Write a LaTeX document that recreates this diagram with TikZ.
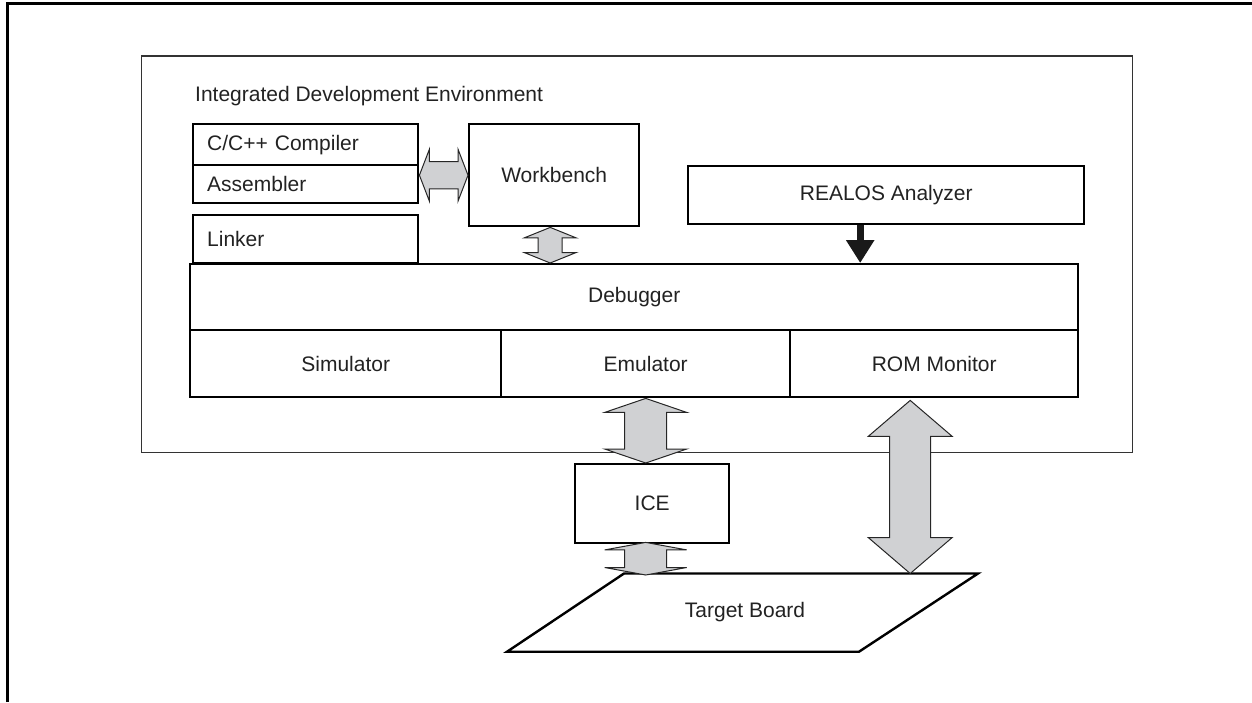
\documentclass[tikz,border=0pt]{standalone}
\usepackage{fontspec}
\setmainfont{Liberation Sans}
\usetikzlibrary{calc,arrows.meta}
\definecolor{txt}{HTML}{222222}
\definecolor{afill}{HTML}{D0D1D3}
\tikzset{
  txtfont/.style={font=\fontsize{21}{25}\selectfont, text=txt},
  box/.style={draw=black, line width=2.4pt, txtfont, inner sep=0pt, anchor=north west},
  lbox/.style={box, align=left, text width=#1, inner xsep=14pt},
  dblarrow/.style={fill=afill, draw=black!85, line width=1pt, line join=miter},
}
\newcommand\vdbl[5]{%
  \filldraw[dblarrow] let \p1=(#1), \p2=(#2) in
    (\x1,\y1) -- ({\x1+#3pt},{\y1-#4pt}) -- ({\x1+#5pt},{\y1-#4pt})
    -- ({\x1+#5pt},{\y2+#4pt}) -- ({\x1+#3pt},{\y2+#4pt}) -- (\x1,\y2)
    -- ({\x1-#3pt},{\y2+#4pt}) -- ({\x1-#5pt},{\y2+#4pt})
    -- ({\x1-#5pt},{\y1-#4pt}) -- ({\x1-#3pt},{\y1-#4pt}) -- cycle;}
\newcommand\hdbl[5]{%
  \filldraw[dblarrow] let \p1=(#1), \p2=(#2) in
    (\x1,\y1) -- ({\x1+#4pt},{\y1+#3pt}) -- ({\x1+#4pt},{\y1+#5pt})
    -- ({\x2-#4pt},{\y1+#5pt}) -- ({\x2-#4pt},{\y1+#3pt}) -- (\x2,\y1)
    -- ({\x2-#4pt},{\y1-#3pt}) -- ({\x2-#4pt},{\y1-#5pt})
    -- ({\x1+#4pt},{\y1-#5pt}) -- ({\x1+#4pt},{\y1-#3pt}) -- cycle;}
\begin{document}
\begin{tikzpicture}[x=1pt,y=-1pt]
\useasboundingbox (0,0) rectangle (1252,702);
% outer frame (top and left only)
\coordinate (ofb) at (7.8,702);
\coordinate (oft) at (7.8,3);
\coordinate (ofr) at (1252,3);
\draw[line width=3pt, black] (ofb) -- (oft) -- (ofr);
% IDE frame
\node[draw=black!80, line width=1.6pt, minimum width=991pt, minimum height=396.5pt, anchor=north west, inner sep=0pt] (ide) at (140.5,55) {};
\node[txtfont, anchor=base west, inner sep=0pt] (idelabel) at (195,101.7) {Integrated Development Environment};
% left tool boxes
\node[lbox=197pt, minimum height=41pt] (cc) at (192,123) {C/C++ Compiler};
\node[lbox=197pt, minimum height=38pt] (asm) at (192,164) {Assembler};
\node[lbox=197pt, minimum height=48pt] (lnk) at (192,214) {Linker};
% workbench
\node[box, minimum width=170pt, minimum height=102pt] (wb) at (468,123) {Workbench};
% REALOS
\node[box, minimum width=396pt, minimum height=58pt] (ra) at (687,165) {REALOS Analyzer};
% debugger stack
\node[box, minimum width=888pt, minimum height=66pt] (dbg) at (189,263) {Debugger};
\node[box, minimum width=311pt, minimum height=67pt] (sim) at (189,329) {Simulator};
\node[box, minimum width=289pt, minimum height=67pt] (emu) at (500,329) {Emulator};
\node[box, minimum width=288pt, minimum height=67pt] (rom) at (789,329) {ROM Monitor};
% ICE
\node[box, minimum width=154pt, minimum height=79pt] (ice) at (574,463) {ICE};
% target board
\coordinate (tbtl) at (624,573.5);
\coordinate (tbtr) at (978,573.5);
\coordinate (tbbr) at (859,651.7);
\coordinate (tbbl) at (507,651.7);
\draw[line width=2.4pt, black, line join=miter] (tbtl) -- (tbtr) -- (tbbr) -- (tbbl) -- cycle;
\node[txtfont, inner sep=0pt] (tb) at (745,612) {Target Board};
% connectors
\hdbl{cc.east |- wb.west}{wb.west}{26}{10}{13.7}
\vdbl{[xshift=-4pt]wb.south}{[xshift=-4pt]wb.south |- dbg.north}{26}{10.5}{12}
\vdbl{emu.south}{emu.south |- ice.north}{41}{14}{21}
\vdbl{[yshift=2pt]emu.south |- ice.south}{[yshift=-1.5pt]emu.south |- tbtl}{41}{7.5}{21}
\vdbl{[xshift=-24pt,yshift=-2pt]rom.south}{[xshift=-24pt]rom.south |- tbtl}{42}{36}{20.5}
\draw[line width=7pt, black!90, -{Triangle[length=23pt,width=27pt]}] ([xshift=-26pt]ra.south) -- ([xshift=-26pt]ra.south |- dbg.north);
\end{tikzpicture}
\end{document}
